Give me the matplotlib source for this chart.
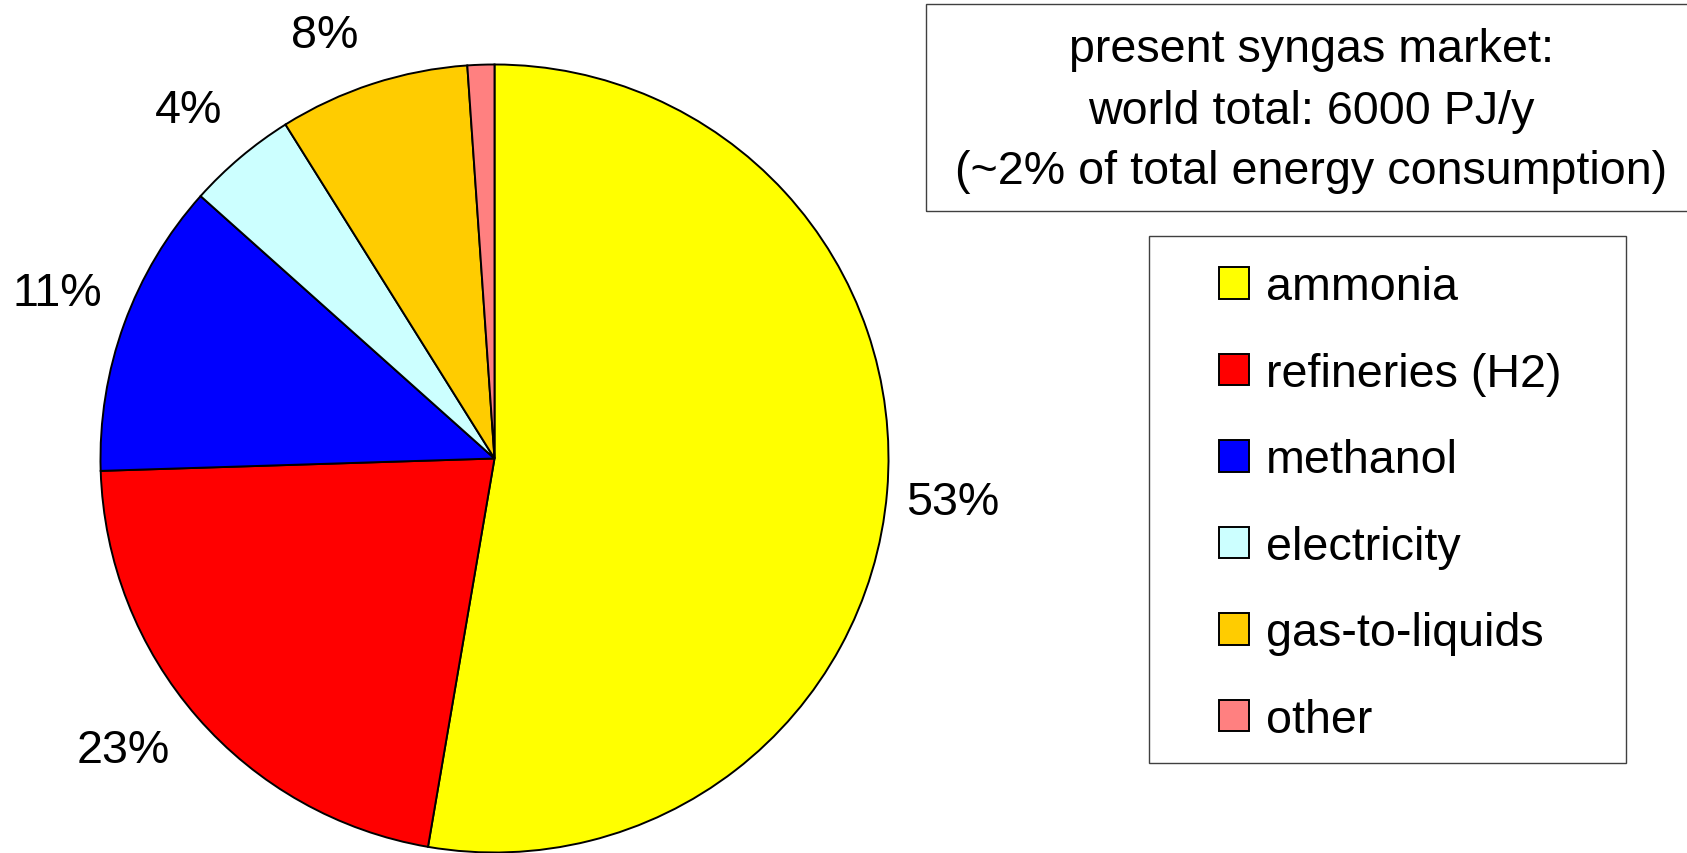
import matplotlib
matplotlib.use("Agg")
import matplotlib.pyplot as plt
from matplotlib.patches import Rectangle

plt.rcParams["font.family"] = ["Liberation Sans", "DejaVu Sans"]

# syngas market shares (wedge sizes, labels as printed)
uses = ["ammonia", "refineries (H2)", "methanol", "electricity", "gas-to-liquids", "other"]
shares = [52.7, 21.8, 12.1, 4.5, 7.8, 1.1]
share_labels = ["53%", "23%", "11%", "4%", "8%", ""]
colours = ["#FFFF00", "#FF0000", "#0000FF", "#CCFFFF", "#FFCC00", "#FF8080"]

title_lines = ["present syngas market:", "world total: 6000 PJ/y",
               "(~2% of total energy consumption)"]

W, H = 1687, 854
fig = plt.figure(figsize=(W / 100, H / 100), dpi=100)
ax = fig.add_axes([0, 0, 1, 1])

fs = 33.6

wedges, texts = ax.pie(
    shares,
    colors=colours,
    labels=share_labels,
    labeldistance=1.18,
    startangle=90,
    counterclock=False,
    center=(494.5, 394.5),
    radius=394,
    wedgeprops=dict(edgecolor="black", linewidth=1.4),
    textprops=dict(fontsize=fs),
)

# label spots (pixels from top-left), placed like the original chart
label_spots = [(952.5, 503), (123.5, 751.5), (57.5, 294), (188.5, 111), (325, 36), (0, 0)]
for t, (x, y) in zip(texts, label_spots):
    t.set_ha("center")
    t.set_va("center")
    t.set_position((x, H - y))

ax.set_xlim(0, W)
ax.set_ylim(0, H)
ax.set_aspect("equal")
ax.axis("off")

# text box in the upper right (runs off the right edge)
ax.add_patch(Rectangle((926, 642), 800, 207, fill=False, edgecolor="#404040",
                       linewidth=1.0, clip_on=False))
ax.text(1311.5, 742.5, "\n".join(title_lines), ha="center", va="center",
        multialignment="center", fontsize=fs, linespacing=1.50)

# legend with its own frame
ax.add_patch(Rectangle((1149, 90), 477, 527, fill=False, edgecolor="#404040",
                       linewidth=1.0, clip_on=False))
ax.legend(
    wedges,
    uses,
    loc="center left",
    bbox_to_anchor=(1219, 349.5),
    bbox_transform=ax.transData,
    frameon=False,
    fontsize=fs,
    handlelength=0.64,
    handleheight=0.66,
    handletextpad=0.36,
    labelspacing=0.91,
    borderpad=0,
    borderaxespad=0,
)

fig.savefig("out.png", dpi=100)
